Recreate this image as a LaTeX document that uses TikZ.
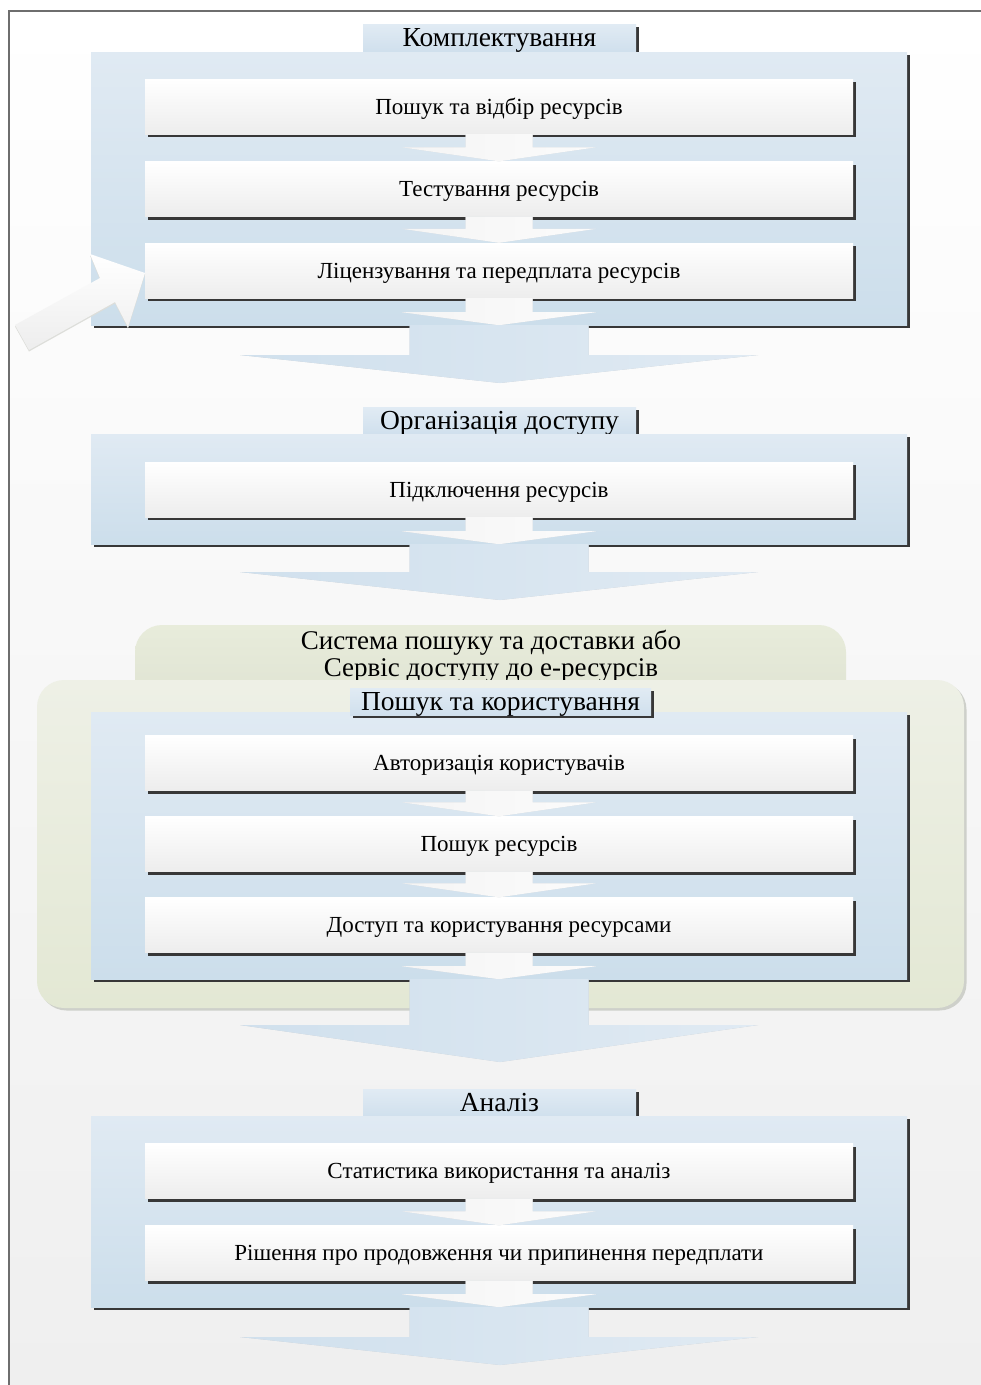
\documentclass[tikz,border=0pt]{standalone}
\usepackage{fontspec}
\setmainfont{Liberation Serif}
\usetikzlibrary{calc,shadows}

\definecolor{bgBot}{RGB}{239,239,239}
\definecolor{frameLine}{RGB}{110,110,110}
\definecolor{panelTop}{RGB}{224,234,243}
\definecolor{panelBot}{RGB}{204,222,235}
\definecolor{tabTop}{RGB}{225,235,244}
\definecolor{tabBot}{RGB}{208,224,237}
\definecolor{boxBot}{RGB}{237,237,237}
\definecolor{shadowDark}{RGB}{55,55,55}
\definecolor{bigL}{RGB}{208,224,237}
\definecolor{bigR}{RGB}{224,234,243}
\definecolor{bigEdge}{RGB}{198,204,210}
\definecolor{smallEdge}{RGB}{214,218,222}
\definecolor{greenTop}{RGB}{238,240,230}
\definecolor{greenBot}{RGB}{227,232,212}
\definecolor{greenBack}{RGB}{232,236,219}
\definecolor{greenEdge}{RGB}{206,208,202}

% block arrow pointing down: #1 style, #2 start, #3 tip,
% #4 half shaft width, #5 half head width, #6 head length
\newcommand{\blockdown}[6]{%
  \path[#1] let \p1=#2, \p2=#3 in
    (\x1-#4,\y1) -- (\x1+#4,\y1) -- (\x1+#4,\y2+#6) -- (\x1+#5,\y2+#6)
    -- (\x2,\y2) -- (\x1-#5,\y2+#6) -- (\x1-#4,\y2+#6) -- cycle;}

\tikzset{
  darkshadow/.style={drop shadow={shadow xshift=3pt,shadow yshift=-3pt,fill=shadowDark,opacity=1}},
  panel/.style={rectangle,inner sep=0pt,top color=panelTop,bottom color=panelBot,
    minimum width=816pt,darkshadow},
  stepbox/.style={rectangle,inner sep=0pt,top color=white,bottom color=boxBot,
    minimum width=708pt,minimum height=55pt,darkshadow,
    font=\fontsize{23}{26}\selectfont,text height=19pt,text depth=4pt},
  tab/.style={rectangle,inner sep=0pt,top color=tabTop,bottom color=tabBot,
    minimum height=27pt,darkshadow,font=\fontsize{27.5}{30}\selectfont,
    text height=22pt,text depth=4pt},
  bigarrow/.style={left color=bigL,right color=bigR},
  bigarrowedge/.style={fill=bigEdge,yshift=-1.6pt},
  smallarrow/.style={left color=white!96!black,right color=white!98.5!black},
  smallarrowedge/.style={fill=smallEdge,yshift=-1.2pt},
  greenback/.style={rectangle,rounded corners=27pt,inner sep=0pt,
    top color=greenBack,bottom color=greenBack!95!black},
  greenfront/.style={rectangle,rounded corners=27pt,inner sep=0pt,
    top color=greenTop,bottom color=greenBot},
}

\begin{document}
\begin{tikzpicture}[x=1pt,y=-1pt]
\useasboundingbox (0,0) rectangle (981,1385);

% page background and frame
\shade[top color=white,bottom color=bgBot] (9,11) rectangle (981,1385);
\draw[frameLine,line width=1.3pt] (9,1385) -- (9,11) -- (981,11);

% ---------- stage 1 ----------
\node[tab,minimum width=273pt] (t1) at (499.5,37.5) {Комплектування};
\node[panel,minimum height=273pt] (p1) at (499,188.5) {};
\node[stepbox] (b11) at (499,106.5) {Пошук та відбір ресурсів};
\node[stepbox] (b12) at (499,189) {Тестування ресурсів};
\node[stepbox] (b13) at (499,270.5) {Ліцензування та передплата ресурсів};

% incoming arrow on the left
\path[fill=greenEdge!70!white] (15,326.5) -- (100,279.5) -- (90,255.5) -- (145,274.5)
  -- (128,328.5) -- (115,303.5) -- (29,351.5) -- cycle;
\path[top color=white,bottom color=white!93!black]
  (15,325) -- (100,278) -- (90,254) -- (145,273) -- (128,327) -- (115,302) -- (29,350) -- cycle;

\blockdown{smallarrowedge}{(b11.south)}{(b12.north)}{33.5pt}{97pt}{14pt}
\blockdown{smallarrow}{(b11.south)}{(b12.north)}{33.5pt}{97pt}{14pt}
\blockdown{smallarrowedge}{(b12.south)}{(b13.north)}{33.5pt}{97pt}{14pt}
\blockdown{smallarrow}{(b12.south)}{(b13.north)}{33.5pt}{97pt}{14pt}
\blockdown{smallarrowedge}{(b13.south)}{(p1.south)}{33.5pt}{97pt}{13pt}
\blockdown{smallarrow}{(b13.south)}{(p1.south)}{33.5pt}{97pt}{13pt}

\coordinate (e1) at (500,383);
\blockdown{bigarrowedge}{(p1.south)}{(e1)}{89.5pt}{259pt}{28pt}
\blockdown{bigarrow}{(p1.south)}{(e1)}{89.5pt}{259pt}{28pt}

% ---------- stage 2 ----------
\node[tab,minimum width=273pt] (t2) at (499.5,420.5) {Організація доступу};
\node[panel,minimum height=110pt] (p2) at (499,489) {};
\node[stepbox] (b21) at (499,489.5) {Підключення ресурсів};
\blockdown{smallarrowedge}{(b21.south)}{(p2.south)}{33.5pt}{97pt}{13pt}
\blockdown{smallarrow}{(b21.south)}{(p2.south)}{33.5pt}{97pt}{13pt}

\coordinate (e2) at (500,600);
\blockdown{bigarrowedge}{(p2.south)}{(e2)}{89.5pt}{259pt}{28pt}
\blockdown{bigarrow}{(p2.south)}{(e2)}{89.5pt}{259pt}{28pt}

% ---------- stage 3 ----------
\node[greenback,minimum width=711pt,minimum height=100pt] (g1) at (490.5,675) {};
\node[align=center,font=\fontsize{27}{27.5}\selectfont,inner sep=0pt] (g1t) at (491,656)
  {Система пошуку та доставки або\\Сервіс доступу до е-ресурсів};
\fill[greenEdge,rounded corners=27pt] (39.5,682.5) rectangle (966.5,1010.5);
\node[greenfront,minimum width=927pt,minimum height=328pt] (g2) at (500.5,844) {};

\node[panel,minimum height=267pt] (p3) at (499,845.5) {};
\node[tab,minimum width=301pt] (t3) at (500.5,701.5) {Пошук та користування};
\node[stepbox] (b31) at (499,763) {Авторизація користувачів};
\node[stepbox] (b32) at (499,844) {Пошук ресурсів};
\node[stepbox] (b33) at (499,925) {Доступ та користування ресурсами};
\blockdown{smallarrowedge}{(b31.south)}{(b32.north)}{33.5pt}{97pt}{14pt}
\blockdown{smallarrow}{(b31.south)}{(b32.north)}{33.5pt}{97pt}{14pt}
\blockdown{smallarrowedge}{(b32.south)}{(b33.north)}{33.5pt}{97pt}{14pt}
\blockdown{smallarrow}{(b32.south)}{(b33.north)}{33.5pt}{97pt}{14pt}
\blockdown{smallarrowedge}{(b33.south)}{(p3.south)}{33.5pt}{97pt}{13pt}
\blockdown{smallarrow}{(b33.south)}{(p3.south)}{33.5pt}{97pt}{13pt}

\coordinate (e3) at (500,1062);
\blockdown{bigarrowedge}{(p3.south)}{(e3)}{89.5pt}{259pt}{37pt}
\blockdown{bigarrow}{(p3.south)}{(e3)}{89.5pt}{259pt}{37pt}

% ---------- stage 4 ----------
\node[tab,minimum width=273pt] (t4) at (499.5,1102.5) {Аналіз};
\node[panel,minimum height=191pt] (p4) at (499,1211.5) {};
\node[stepbox] (b41) at (499,1171) {Статистика використання та аналіз};
\node[stepbox] (b42) at (499,1253) {Рішення про продовження чи припинення передплати};
\blockdown{smallarrowedge}{(b41.south)}{(b42.north)}{33.5pt}{97pt}{14pt}
\blockdown{smallarrow}{(b41.south)}{(b42.north)}{33.5pt}{97pt}{14pt}
\blockdown{smallarrowedge}{(b42.south)}{(p4.south)}{33.5pt}{97pt}{13pt}
\blockdown{smallarrow}{(b42.south)}{(p4.south)}{33.5pt}{97pt}{13pt}

\coordinate (e4) at (500,1365);
\blockdown{bigarrowedge}{(p4.south)}{(e4)}{89.5pt}{259pt}{28pt}
\blockdown{bigarrow}{(p4.south)}{(e4)}{89.5pt}{259pt}{28pt}
\end{tikzpicture}
\end{document}
